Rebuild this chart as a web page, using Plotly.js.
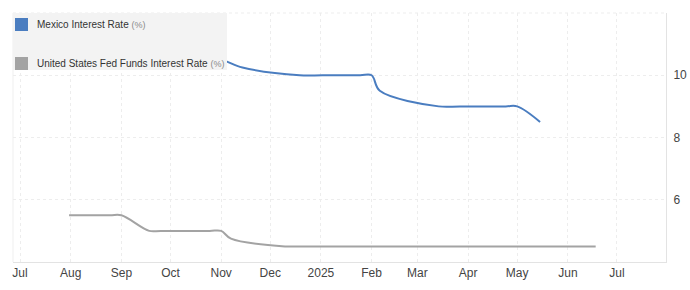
<!DOCTYPE html>
<html>
<head>
<meta charset="utf-8">
<script src="https://cdn.plot.ly/plotly-3.0.1.min.js"></script>
<style>
  html, body { margin: 0; padding: 0; background: #ffffff; }
  #chart { width: 690px; height: 290px; }
</style>
</head>
<body>
<div id="chart"></div>
<script>
// Policy rates, in percent, at each reading date
const mexicoDates = ['2024-08-01', '2024-08-08', '2024-09-19', '2024-09-26', '2024-10-25', '2024-11-01', '2024-11-14', '2024-12-19', '2025-01-02', '2025-01-25', '2025-02-01', '2025-02-06', '2025-03-14', '2025-03-27', '2025-04-24', '2025-05-01', '2025-05-15'];
const mexicoRates = [11.0, 10.75, 10.75, 10.5, 10.5, 10.5, 10.25, 10.0, 10.0, 10.0, 10.0, 9.5, 9.0, 9.0, 9.0, 9.0, 8.5];

const usDates = ['2024-07-31', '2024-08-25', '2024-09-01', '2024-09-18', '2024-09-25', '2024-10-25', '2024-11-01', '2024-11-07', '2024-12-10', '2024-12-18', '2025-01-29', '2025-03-19', '2025-05-07', '2025-06-18'];
const usRates = [5.5, 5.5, 5.5, 5.0, 5.0, 5.0, 5.0, 4.75, 4.5, 4.5, 4.5, 4.5, 4.5, 4.5];

const seriesNames = ['Mexico Interest Rate', 'United States Fed Funds Interest Rate'];
const seriesUnit = '(%)';

const monthTicks = ['2024-07-01', '2024-08-01', '2024-09-01', '2024-10-01', '2024-11-01', '2024-12-01', '2025-01-01', '2025-02-01', '2025-03-01', '2025-04-01', '2025-05-01', '2025-06-01', '2025-07-01'];
const monthLabels = ['Jul', 'Aug', 'Sep', 'Oct', 'Nov', 'Dec', '2025', 'Feb', 'Mar', 'Apr', 'May', 'Jun', 'Jul'];
const rateTicks = [6, 8, 10];

const blue = '#4a7dc0';
const grey = '#a3a3a3';

const traces = [
  {
    x: mexicoDates, y: mexicoRates, type: 'scatter', mode: 'lines',
    line: { color: blue, width: 2, shape: 'spline', smoothing: 1 },
    name: seriesNames[0], hoverinfo: 'skip'
  },
  {
    x: usDates, y: usRates, type: 'scatter', mode: 'lines',
    line: { color: grey, width: 2, shape: 'spline', smoothing: 1 },
    name: seriesNames[1], hoverinfo: 'skip'
  }
];

const font = 'Arial, "Liberation Sans", sans-serif';

// Hand-built legend panel in the top-left corner, drawn over the plot
const legendShapes = [
  { type: 'rect', xref: 'paper', yref: 'paper', x0: 0, x1: 214 / 653, y0: 192 / 249, y1: 1,
    fillcolor: '#f3f3f3', line: { width: 0 }, layer: 'above' },
  { type: 'rect', xref: 'paper', yref: 'paper', x0: 2 / 653, x1: 15 / 653, y0: (249 - 18) / 249, y1: (249 - 5) / 249,
    fillcolor: blue, line: { width: 0 }, layer: 'above' },
  { type: 'rect', xref: 'paper', yref: 'paper', x0: 2 / 653, x1: 15 / 653, y0: 192 / 249, y1: (249 - 44) / 249,
    fillcolor: grey, line: { width: 0 }, layer: 'above' }
];
const legendText = [
  { text: seriesNames[0] + ' <span style="color:#8a8a8a;font-size:9px">' + seriesUnit + '</span>', yc: 11 },
  { text: seriesNames[1] + ' <span style="color:#8a8a8a;font-size:9px">' + seriesUnit + '</span>', yc: 50 }
].map(t => ({
  xref: 'paper', yref: 'paper', x: 22 / 653, y: (249 - t.yc) / 249,
  xanchor: 'left', yanchor: 'middle', showarrow: false,
  text: t.text, font: { family: font, size: 10, color: '#333333' }
}));

const layout = {
  width: 690, height: 290,
  margin: { l: 13, r: 24, t: 13, b: 28, pad: 0 },
  paper_bgcolor: '#ffffff', plot_bgcolor: '#ffffff',
  showlegend: false,
  font: { family: font, size: 12, color: '#444444' },
  xaxis: {
    type: 'date',
    range: ['2024-06-26 17:00', '2025-07-31'],
    tickmode: 'array', tickvals: monthTicks, ticktext: monthLabels,
    ticks: '', showgrid: true, gridcolor: '#ededed', griddash: 'dot', gridwidth: 1,
    showline: true, linecolor: '#e3e3e3', linewidth: 1, mirror: false,
    zeroline: false, tickfont: { size: 12, color: '#444444' }, fixedrange: true
  },
  yaxis: {
    side: 'right', range: [4, 12],
    tickmode: 'array', tickvals: rateTicks, ticktext: rateTicks.map(String),
    ticks: 'outside', ticklen: 4, tickcolor: '#ffffff',
    showgrid: true, gridcolor: '#ededed', griddash: 'dot', gridwidth: 1,
    showline: true, linecolor: '#e3e3e3', linewidth: 1,
    zeroline: false, tickfont: { size: 12, color: '#444444' }, fixedrange: true
  },
  shapes: [
    // top border, dotted like the grid
    { type: 'line', xref: 'paper', yref: 'paper', x0: 0, x1: 1, y0: 1, y1: 1,
      line: { color: '#ededed', width: 1, dash: 'dot' }, layer: 'below' },
    // left border
    { type: 'line', xref: 'paper', yref: 'paper', x0: 0, x1: 0, y0: 0, y1: 1,
      line: { color: '#efefef', width: 1 }, layer: 'below' }
  ].concat(legendShapes),
  annotations: legendText
};

Plotly.newPlot('chart', traces, layout, { staticPlot: true, displayModeBar: false });
</script>
</body>
</html>
